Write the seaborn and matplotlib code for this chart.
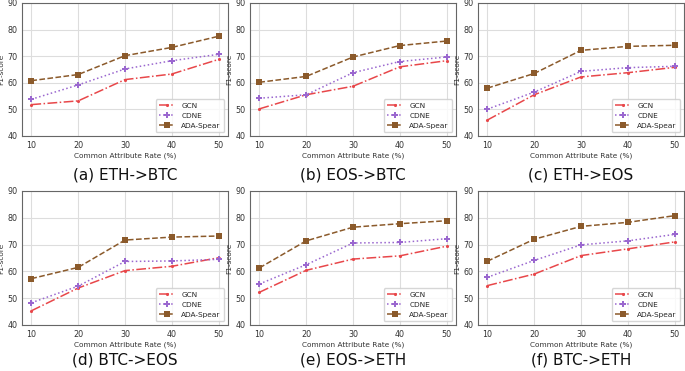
import pandas as pd
import matplotlib.pyplot as plt
import seaborn as sns

sns.set_theme(style="whitegrid")
plt.rcParams['font.family'] = ['DejaVu Sans']

# data
rates = [10, 20, 30, 40, 50]
methods = ['GCN', 'CDNE', 'ADA-Spear']
titles = ['(a) ETH->BTC', '(b) EOS->BTC', '(c) ETH->EOS',
          '(d) BTC->EOS', '(e) EOS->ETH', '(f) BTC->ETH']

gcn = [
    [51.8, 53.2, 61.2, 63.3, 68.8],
    [50.2, 55.5, 58.7, 66.0, 68.3],
    [46.0, 55.5, 62.2, 63.8, 65.8],
    [45.3, 53.8, 60.3, 61.9, 65.1],
    [52.2, 60.4, 64.6, 65.8, 69.4],
    [54.7, 59.0, 65.9, 68.4, 71.0],
]
cdne = [
    [53.8, 59.2, 65.2, 68.3, 70.7],
    [54.2, 55.5, 63.8, 68.0, 69.7],
    [50.1, 56.5, 64.3, 65.7, 66.2],
    [48.3, 54.5, 63.7, 63.9, 64.5],
    [55.3, 62.5, 70.6, 70.8, 72.2],
    [57.8, 64.1, 69.9, 71.4, 73.8],
]
ada = [
    [60.8, 63.1, 70.2, 73.3, 77.5],
    [60.2, 62.4, 69.7, 74.0, 75.7],
    [58.0, 63.5, 72.2, 73.7, 74.1],
    [57.3, 61.5, 71.7, 72.8, 73.2],
    [61.3, 71.4, 76.5, 77.8, 78.9],
    [63.8, 72.0, 76.8, 78.3, 80.8],
]

styles = {
    'GCN': dict(color='#e8474a', linestyle='-.', marker='.', markersize=4.5),
    'CDNE': dict(color='#9a67cf', linestyle=':', marker='P', markersize=5),
    'ADA-Spear': dict(color='#8b5a2b', linestyle='--', marker='s', markersize=4.3),
}

W, H = 685, 371
fig = plt.figure(figsize=(W / 100, H / 100), dpi=100)

col_x = [22, 250, 478]
row_y = [(3, 136), (191, 325)]
title_y = [175, 360]

for i in range(6):
    r, c = divmod(i, 3)
    x0 = col_x[c]
    y_top, y_bot = row_y[r]
    ax = fig.add_axes([x0 / W, 1 - y_bot / H, 206 / W, (y_bot - y_top) / H])

    for name, vals in zip(methods, [gcn[i], cdne[i], ada[i]]):
        df = pd.DataFrame({'rate': rates, 'f1': vals})
        st = styles[name]
        sns.lineplot(data=df, x='rate', y='f1', ax=ax, label=name,
                     color=st['color'], marker=st['marker'],
                     markersize=st['markersize'], markeredgewidth=0,
                     linewidth=1.1)
        ax.lines[-1].set_linestyle(st['linestyle'])

    ax.set_xlim(8, 52)
    ax.set_ylim(40, 90)
    ax.set_xticks(rates)
    ax.set_yticks([40, 50, 60, 70, 80, 90])
    ax.tick_params(labelsize=5.8, length=2, pad=1.5, colors='#333333')
    ax.set_xlabel('Common Attribute Rate (%)', fontsize=5.3, labelpad=2, color='#333333')
    ax.set_ylabel('F1-score', fontsize=5.3, color='#333333')
    ax.yaxis.set_label_coords(-17.5 / 206, 0.5)
    ax.grid(True, color='#dddddd', linewidth=0.8)
    for sp in ax.spines.values():
        sp.set_color('#666666')
        sp.set_linewidth(0.8)

    leg = ax.legend(loc='lower right', fontsize=5.3, frameon=True,
                    handlelength=2.2, borderpad=0.5, labelspacing=0.5)
    for h, name in zip(leg.get_lines(), methods):
        h.set_linestyle(styles[name]['linestyle'])

    fig.text((x0 + 103) / W, 1 - title_y[r] / H, titles[i],
             ha='center', va='center', fontsize=11, color='#111111')

plt.savefig('out.png', dpi=100)
